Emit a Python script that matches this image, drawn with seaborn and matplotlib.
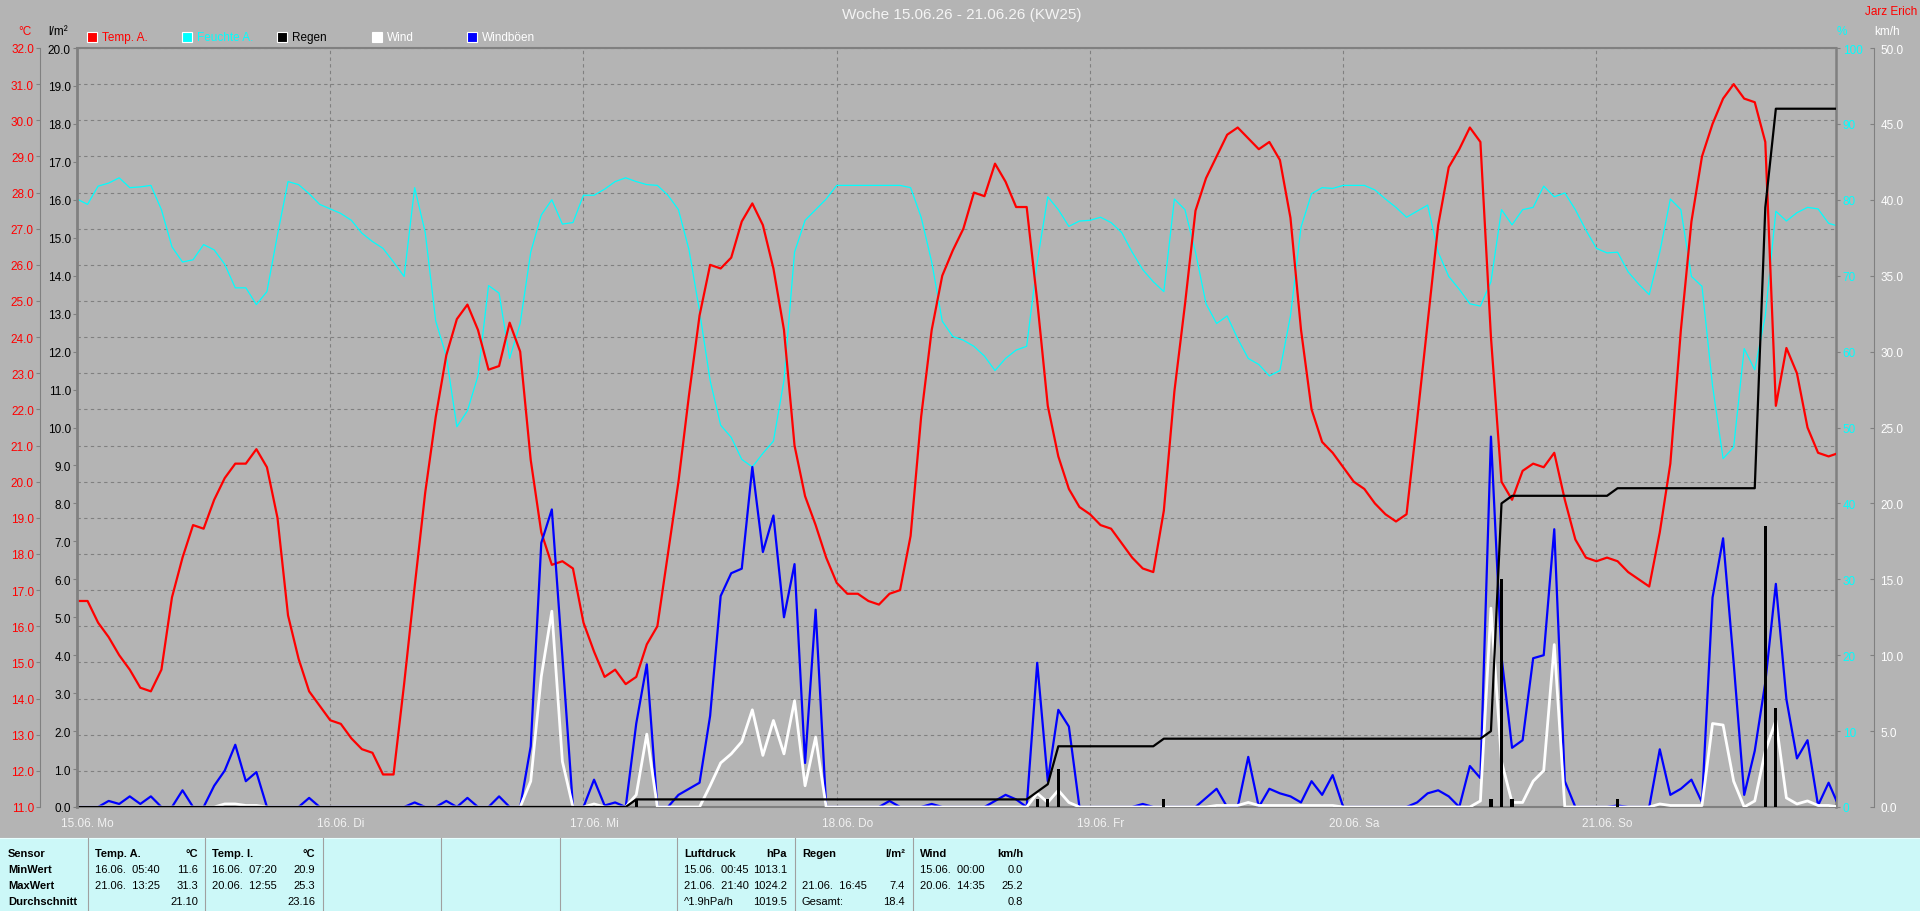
import numpy as np
import pandas as pd
import matplotlib
matplotlib.use("Agg")
import matplotlib.pyplot as plt
import seaborn as sns
from matplotlib.patches import Rectangle
from matplotlib.lines import Line2D

plt.rcParams['font.family'] = ['Liberation Sans', 'DejaVu Sans']

# ---------------- data (hourly values, 15.06. 00:00 ... 21.06. 23:00) ----------------
temp_a = [
    16.7, 16.7, 16.1, 15.7, 15.2, 14.8, 14.3, 14.2, 14.8, 16.8, 17.9, 18.8, 18.7, 19.5, 20.1, 20.5, 20.5, 20.9, 20.4, 19.0, 16.3, 15.1, 14.2, 13.8,
    13.4, 13.3, 12.9, 12.6, 12.5, 11.9, 11.9, 14.4, 17.1, 19.7, 21.8, 23.5, 24.5, 24.9, 24.2, 23.1, 23.2, 24.4, 23.6, 20.6, 18.6, 17.7, 17.8, 17.6,
    16.1, 15.3, 14.6, 14.8, 14.4, 14.6, 15.5, 16.0, 18.0, 20.0, 22.4, 24.6, 26.0, 25.9, 26.2, 27.2, 27.7, 27.1, 25.9, 24.2, 21.0, 19.6, 18.8, 17.9,
    17.2, 16.9, 16.9, 16.7, 16.6, 16.9, 17.0, 18.5, 21.8, 24.2, 25.7, 26.4, 27.0, 28.0, 27.9, 28.8, 28.3, 27.6, 27.6, 25.0, 22.1, 20.7, 19.8, 19.3,
    19.1, 18.8, 18.7, 18.3, 17.9, 17.6, 17.5, 19.2, 22.5, 24.9, 27.5, 28.4, 29.0, 29.6, 29.8, 29.5, 29.2, 29.4, 28.9, 27.3, 24.2, 22.0, 21.1, 20.8,
    20.4, 20.0, 19.8, 19.4, 19.1, 18.9, 19.1, 21.7, 24.4, 27.1, 28.7, 29.2, 29.8, 29.4, 24.0, 20.0, 19.5, 20.3, 20.5, 20.4, 20.8, 19.5, 18.4, 17.9,
    17.8, 17.9, 17.8, 17.5, 17.3, 17.1, 18.6, 20.5, 24.2, 27.2, 29.0, 29.9, 30.6, 31.0, 30.6, 30.5, 29.4, 22.1, 23.7, 23.0, 21.5, 20.8, 20.7, 20.8,
]
feuchte_a = [
    80.1, 79.4, 81.8, 82.2, 82.9, 81.6, 81.7, 81.9, 78.7, 73.8, 71.8, 72.1, 74.1, 73.4, 71.5, 68.4, 68.4, 66.2, 67.9, 75.4, 82.4, 82.0, 80.8, 79.4,
    78.8, 78.2, 77.3, 75.6, 74.5, 73.6, 71.8, 69.9, 81.6, 75.7, 64.0, 59.4, 50.1, 52.2, 56.8, 68.7, 67.7, 59.1, 63.7, 73.1, 78.0, 80.0, 76.8, 77.0,
    80.6, 80.6, 81.4, 82.4, 82.9, 82.4, 82.0, 81.9, 80.6, 78.7, 73.4, 65.3, 56.2, 50.3, 48.7, 45.8, 44.8, 46.6, 48.2, 56.2, 73.1, 77.3, 78.7, 80.1,
    81.9, 81.9, 81.9, 81.9, 81.9, 81.9, 81.9, 81.6, 77.7, 71.8, 64.0, 62.0, 61.5, 60.7, 59.4, 57.5, 59.1, 60.2, 60.7, 71.8, 80.4, 78.7, 76.5, 77.2,
    77.3, 77.7, 77.0, 75.7, 73.1, 70.8, 69.2, 67.9, 80.1, 78.7, 73.1, 66.3, 63.7, 64.7, 61.7, 59.1, 58.3, 56.8, 57.5, 64.7, 76.4, 80.8, 81.6, 81.5,
    81.9, 81.9, 81.9, 81.3, 80.1, 79.0, 77.7, 78.5, 79.3, 73.1, 69.9, 68.2, 66.3, 66.0, 69.2, 78.7, 76.7, 78.7, 79.0, 81.8, 80.4, 80.9, 78.7, 76.0,
    73.6, 73.0, 73.1, 70.5, 68.9, 67.5, 73.1, 80.1, 78.7, 69.9, 68.6, 55.5, 45.9, 47.4, 60.4, 57.6, 64.7, 78.5, 77.2, 78.3, 79.0, 78.8, 76.9, 76.5,
]
windboeen = [
    0, 0, 0, 0.4, 0.2, 0.7, 0.2, 0.7, 0, 0, 1.1, 0, 0, 1.4, 2.4, 4.1, 1.7, 2.3, 0, 0, 0, 0, 0.6, 0,
    0, 0, 0, 0, 0, 0, 0, 0, 0.3, 0, 0, 0.4, 0, 0.6, 0, 0, 0.7, 0, 0, 4.0, 17.4, 19.6, 9.9, 0,
    0, 1.8, 0.1, 0.3, 0, 5.5, 9.4, 0, 0, 0.8, 1.2, 1.6, 6.0, 13.9, 15.4, 15.7, 22.4, 16.8, 19.2, 12.5, 16.0, 2.9, 13.0, 0,
    0, 0, 0, 0, 0, 0.4, 0, 0, 0, 0.2, 0, 0, 0, 0, 0, 0.4, 0.8, 0.5, 0, 9.5, 1.7, 6.4, 5.3, 0,
    0, 0, 0, 0, 0, 0.2, 0, 0, 0, 0, 0, 0.6, 1.2, 0, 0, 3.3, 0, 1.2, 0.9, 0.7, 0.3, 1.7, 0.8, 2.1,
    0, 0, 0, 0, 0, 0, 0, 0.3, 0.9, 1.1, 0.7, 0, 2.7, 1.9, 24.4, 9.9, 3.9, 4.4, 9.8, 10.0, 18.3, 1.7, 0, 0,
    0, 0, 0.1, 0, 0, 0, 3.8, 0.8, 1.2, 1.8, 0.3, 13.8, 17.7, 9.5, 0.8, 3.7, 8.2, 14.7, 7.1, 3.2, 4.4, 0.1, 1.6, 0,
]
wind = [
    0, 0, 0, 0, 0, 0, 0, 0, 0, 0, 0, 0, 0, 0, 0.2, 0.2, 0.1, 0.1, 0, 0, 0, 0, 0, 0,
    0, 0, 0, 0, 0, 0, 0, 0, 0, 0, 0, 0, 0, 0, 0, 0, 0, 0, 0, 1.7, 8.6, 12.9, 3.0, 0,
    0, 0.2, 0, 0, 0, 0.8, 4.8, 0, 0, 0, 0, 0, 1.4, 2.9, 3.5, 4.3, 6.4, 3.4, 5.7, 3.5, 7.0, 1.4, 4.6, 0,
    0, 0, 0, 0, 0, 0, 0, 0, 0, 0, 0, 0, 0, 0, 0, 0, 0, 0, 0, 0.9, 0.3, 1.1, 0.3, 0,
    0, 0, 0, 0, 0, 0, 0, 0, 0, 0, 0, 0, 0.1, 0.1, 0.1, 0.3, 0.1, 0.1, 0.1, 0.1, 0.1, 0.1, 0.1, 0.1,
    0, 0, 0, 0, 0, 0, 0, 0, 0, 0, 0, 0, 0, 0.4, 13.1, 3.0, 0.3, 0.3, 1.7, 2.4, 10.7, 0, 0, 0,
    0, 0, 0, 0, 0, 0, 0.2, 0.1, 0.1, 0.1, 0.1, 5.5, 5.4, 1.7, 0, 0.4, 3.7, 5.7, 0.6, 0.2, 0.4, 0.1, 0.1, 0,
]
regen = [0.0] * 168
regen_events = {53: 0.2, 91: 0.2, 92: 0.2, 93: 1.0, 103: 0.2, 134: 0.2, 135: 6.0,
                136: 0.2, 146: 0.2, 160: 7.4, 161: 2.6}
for h, v in regen_events.items():
    regen[h] = v

day_labels = ["15.06. Mo", "16.06. Di", "17.06. Mi", "18.06. Do", "19.06. Fr", "20.06. Sa", "21.06. So"]
legend_names = ["Temp. A.", "Feuchte A.", "Regen", "Wind", "Windböen"]

tab_headers = ["Temp. A.", "Temp. I.", "Luftdruck", "Regen", "Wind"]
tab_units = ["°C", "°C", "hPa", "l/m²", "km/h"]
tab_min_time = ["16.06.  05:40", "16.06.  07:20", "15.06.  00:45", "", "15.06.  00:00"]
tab_min_val = ["11.6", "20.9", "1013.1", "", "0.0"]
tab_max_time = ["21.06.  13:25", "20.06.  12:55", "21.06.  21:40", "21.06.  16:45", "20.06.  14:35"]
tab_max_val = ["31.3", "25.3", "1024.2", "7.4", "25.2"]
tab_avg_text = ["", "", "^1.9hPa/h", "Gesamt:", ""]
tab_avg_val = ["21.10", "23.16", "1019.5", "18.4", "0.8"]

# ---------------- styling ----------------
BG = '#b4b4b4'
GRAY = '#808080'
TABLE_BG = '#ccf8f8'
RED = '#ff0000'
CYAN = '#00ffff'
BLUE = '#0000ff'
FS = 8.5
TFS = 8.0
PT = 0.72  # points per pixel at 100 dpi

W, H = 1920, 912
fig = plt.figure(figsize=(W / 100, H / 100), dpi=100, facecolor=BG)


def fx(px):
    return px / W


def fy(py):
    return 1 - py / H


PL, PR, PT_, PB = 77, 1836, 49, 808
rect = [fx(PL), fy(PB), fx(PR) - fx(PL), fy(PT_) - fy(PB)]

hours = np.arange(len(temp_a))
df = pd.DataFrame({
    'stunde': hours,
    'temp_a': temp_a,
    'feuchte_a': feuchte_a,
    'wind': wind,
    'windboeen': windboeen,
    'regen': regen,
})
df['regen_summe'] = df['regen'].cumsum()

XMAX = 166.7

# base axes: °C scale + grid + frame
axG = fig.add_axes(rect)
axG.patch.set_visible(False)
axG.set_zorder(0)
axG.set_xlim(0, XMAX)
axG.set_ylim(11, 32)
cticks = np.arange(11, 32.5, 1)
axG.set_yticks(cticks)
axG.set_yticklabels([f"{v:.1f}" for v in cticks])
axG.tick_params(axis='y', colors=GRAY, labelcolor=RED, length=4 * PT, width=0.8,
                pad=1.5, labelsize=FS, direction='out')
axG.spines['left'].set_position(('outward', 37 * PT))
axG.spines['left'].set_color(GRAY)
axG.spines['left'].set_linewidth(0.8)
axG.spines['right'].set_visible(False)
for s in ('top', 'bottom'):
    axG.spines[s].set_color(GRAY)
    axG.spines[s].set_linewidth(1.5)
day_starts = np.arange(0, 7) * 24
axG.set_xticks(day_starts)
axG.set_xticklabels([''] * len(day_starts))
axG.set_xticks(day_starts + 1.0, minor=True)
axG.set_xticklabels(day_labels, minor=True)
axG.tick_params(axis='x', which='both', length=0, labelcolor='#f2f2f2', labelsize=FS, pad=7)
axG.grid(True, which='major', axis='both', color=GRAY, linestyle=(0, (3, 3)), linewidth=0.8)


def clean_twin(ax):
    ax.patch.set_visible(False)
    for s in ax.spines.values():
        s.set_visible(False)


# humidity axis
axH = axG.twinx()
clean_twin(axH)
axH.set_zorder(1)
sns.lineplot(data=df, x='stunde', y='feuchte_a', ax=axH, color=CYAN, linewidth=0.9,
             estimator=None, sort=False)
axH.set_ylim(0, 100)
hticks = np.arange(0, 101, 10)
axH.set_yticks(hticks)
axH.set_yticklabels([f"{v:d}" for v in hticks])
axH.spines['right'].set_visible(True)
axH.spines['right'].set_color(GRAY)
axH.spines['right'].set_linewidth(1.8)
axH.tick_params(axis='y', colors=GRAY, labelcolor=CYAN, length=4 * PT, width=0.8,
                pad=2, labelsize=FS)

# temperature line
axT = axG.twinx()
clean_twin(axT)
axT.set_zorder(2)
sns.lineplot(data=df, x='stunde', y='temp_a', ax=axT, color=RED, linewidth=1.6,
             estimator=None, sort=False)
axT.set_ylim(11, 32)
axT.set_yticks([])

# wind axis
axW = axG.twinx()
clean_twin(axW)
axW.set_zorder(3)
sns.lineplot(data=df, x='stunde', y='windboeen', ax=axW, color=BLUE, linewidth=1.6,
             estimator=None, sort=False)
sns.lineplot(data=df, x='stunde', y='wind', ax=axW, color='white', linewidth=2.0,
             estimator=None, sort=False)
axW.set_ylim(0, 50)
wticks = np.arange(0, 50.5, 5)
axW.set_yticks(wticks)
axW.set_yticklabels([f"{v:.1f}" for v in wticks])
axW.spines['right'].set_visible(True)
axW.spines['right'].set_position(('outward', 38 * PT))
axW.spines['right'].set_color(GRAY)
axW.spines['right'].set_linewidth(0.8)
axW.tick_params(axis='y', colors=GRAY, labelcolor='white', length=4 * PT, width=0.8,
                pad=4.5, labelsize=FS, direction='in')

# rain axis (l/m²), left at plot frame
axR = axG.twinx()
clean_twin(axR)
axR.set_zorder(4)
axR.bar(df['stunde'], df['regen'], width=0.3, color='black', linewidth=0)
sns.lineplot(data=df, x='stunde', y='regen_summe', ax=axR, color='black', linewidth=1.6,
             estimator=None, sort=False)
axR.set_ylim(0, 20)
rticks = np.arange(0, 20.5, 1)
axR.set_yticks(rticks)
axR.set_yticklabels([f"{v:.1f}" for v in rticks])
axR.yaxis.set_ticks_position('left')
axR.yaxis.set_label_position('left')
axR.spines['left'].set_visible(True)
axR.spines['left'].set_color(GRAY)
axR.spines['left'].set_linewidth(2.0)
axR.tick_params(axis='y', colors=GRAY, labelcolor='black', length=4 * PT, width=0.8,
                pad=1.5, labelsize=FS)

for a in (axG, axH, axT, axW, axR):
    a.set_xlim(0, XMAX)
    a.set_xlabel('')
    a.set_ylabel('')

# ---------------- header texts ----------------
fig.text(fx(962), fy(15), "Woche 15.06.26 - 21.06.26 (KW25)", ha='center', va='center',
         color='#f4f4f4', fontsize=11)
fig.text(fx(1917), fy(12), "Jarz Erich", ha='right', va='center', color=RED, fontsize=FS)
fig.text(fx(25), fy(32), "°C", ha='center', va='center', color=RED, fontsize=FS)
fig.text(fx(58), fy(32), "l/m²", ha='center', va='center', color='black', fontsize=FS)
fig.text(fx(1842), fy(32), "%", ha='center', va='center', color=CYAN, fontsize=FS)
fig.text(fx(1887), fy(32), "km/h", ha='center', va='center', color='white', fontsize=FS)

leg_face = [RED, CYAN, 'black', 'white', BLUE]
leg_text = [RED, CYAN, 'black', 'white', 'white']
for i, name in enumerate(legend_names):
    x0 = 87 + 95 * i
    fig.patches.append(Rectangle((fx(x0), fy(43)), fx(10), 10 / H, transform=fig.transFigure,
                                 facecolor=leg_face[i], edgecolor='white', linewidth=0.8))
    fig.text(fx(x0 + 15), fy(38), name, ha='left', va='center', color=leg_text[i], fontsize=FS)

# ---------------- bottom table ----------------
TT = 839
fig.patches.append(Rectangle((0, 0), 1, fy(TT), transform=fig.transFigure,
                             facecolor=TABLE_BG, edgecolor='none', zorder=0))
fig.lines.append(Line2D([0, 1], [fy(TT), fy(TT)], transform=fig.transFigure,
                        color='#e8ffff', linewidth=0.8))
for sx in [88, 205, 323, 441, 560, 677, 795, 913]:
    fig.lines.append(Line2D([fx(sx), fx(sx)], [fy(TT), 0], transform=fig.transFigure,
                            color='#a0a0a0', linewidth=0.8))

rows_y = [854, 870, 886, 902]
for j, lab in enumerate(["Sensor", "MinWert", "MaxWert", "Durchschnitt"]):
    fig.text(fx(8), fy(rows_y[j]), lab, ha='left', va='center', color='black',
             fontsize=TFS, fontweight='bold')

blocks = [88, 205, 677, 795, 913]
for k, bx in enumerate(blocks):
    xl, xr = fx(bx + 7), fx(bx + 110)
    fig.text(xl, fy(rows_y[0]), tab_headers[k], ha='left', va='center', fontsize=TFS, fontweight='bold')
    fig.text(xr, fy(rows_y[0]), tab_units[k], ha='right', va='center', fontsize=TFS, fontweight='bold')
    fig.text(xl, fy(rows_y[1]), tab_min_time[k], ha='left', va='center', fontsize=TFS)
    fig.text(xr, fy(rows_y[1]), tab_min_val[k], ha='right', va='center', fontsize=TFS)
    fig.text(xl, fy(rows_y[2]), tab_max_time[k], ha='left', va='center', fontsize=TFS)
    fig.text(xr, fy(rows_y[2]), tab_max_val[k], ha='right', va='center', fontsize=TFS)
    fig.text(xl, fy(rows_y[3]), tab_avg_text[k], ha='left', va='center', fontsize=TFS)
    fig.text(xr, fy(rows_y[3]), tab_avg_val[k], ha='right', va='center', fontsize=TFS)

fig.savefig("out.png", dpi=100, facecolor=BG)
